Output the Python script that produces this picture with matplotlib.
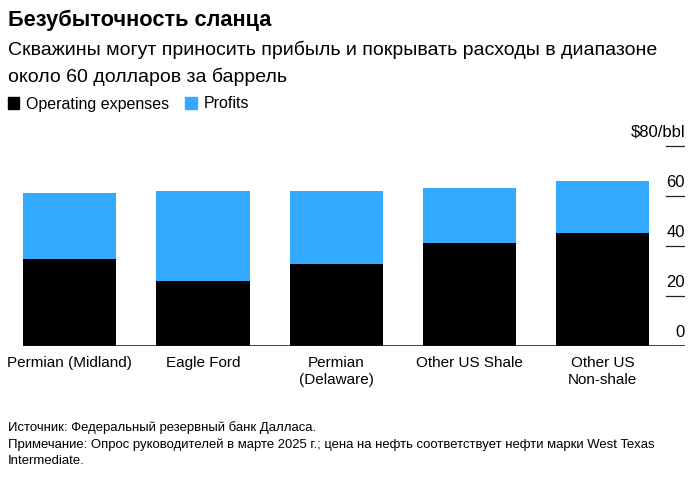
import matplotlib
matplotlib.use('Agg')
import matplotlib.pyplot as plt
from matplotlib.patches import Patch

plt.rcParams['font.family'] = ['Liberation Sans', 'DejaVu Sans']

# данные
regions = ['Permian (Midland)', 'Eagle Ford', 'Permian\n(Delaware)', 'Other US Shale', 'Other US\nNon-shale']
opex = [34.9, 26.0, 32.8, 41.1, 45.1]
profits = [26.2, 36.1, 29.3, 22.1, 21.0]
yticks = [0, 20, 40, 60, 80]
ytick_labels = ['0', '20', '40', '60', '$80/bbl']

title = 'Безубыточность сланца'
subtitle = ['Скважины могут приносить прибыль и покрывать расходы в диапазоне',
            'около 60 долларов за баррель']
notes = ['Источник: Федеральный резервный банк Далласа.',
         'Примечание: Опрос руководителей в марте 2025 г.; цена на нефть соответствует нефти марки West Texas',
         'Intermediate.']

BLUE = '#33aaff'
W, H = 694, 483

fig = plt.figure(figsize=(W / 100, H / 100), dpi=100)
# оси в пикселях: слева 23, справа 685, низ 346, верх 141
ax = fig.add_axes([23 / W, (H - 346) / H, 662 / W, 205 / H])

x = list(range(len(regions)))
ax.bar(x, opex, width=0.7, color='black', linewidth=0)
ax.bar(x, profits, width=0.7, bottom=opex, color=BLUE, linewidth=0)

ax.set_xlim(-0.35, 4.6165)
ax.set_ylim(0, 82)

for s in ax.spines.values():
    s.set_visible(False)
ax.axhline(0, color='#111111', lw=1.1)
for v, lab in zip(yticks, ytick_labels):
    if v > 0:
        ax.axhline(v, xmin=(666 - 23) / 662, xmax=1, color='#222222', lw=0.9)
    ax.annotate(lab, xy=(1, v), xycoords=('axes fraction', 'data'),
                xytext=(0, 6.5), textcoords='offset points',
                ha='right', va='baseline', fontsize=12)

ax.set_yticks([])
ax.set_xticks(x)
ax.set_xticklabels(regions, fontsize=11, linespacing=1.3)
ax.tick_params(axis='x', length=0, pad=7)

fig.text(8 / W, 1 - 20 / H, title, fontsize=15.7, fontweight='bold', va='center')
fig.text(8 / W, 1 - 50 / H, subtitle[0], fontsize=14, va='center')
fig.text(8 / W, 1 - 77 / H, subtitle[1], fontsize=14, va='center')

handles = [Patch(color='black', label='Operating expenses'),
           Patch(color=BLUE, label='Profits')]
fig.legend(handles=handles, loc='center left', bbox_to_anchor=(8 / W, 1 - 104 / H),
           ncol=2, frameon=False, fontsize=11.5, handlelength=0.7, handleheight=0.7,
           handletextpad=0.45, columnspacing=1.0, borderpad=0, borderaxespad=0)

for i, line in enumerate(notes):
    fig.text(8 / W, 1 - (428 + 16.5 * i) / H, line, fontsize=9.45, va='center')

fig.savefig('out.png', dpi=100)
